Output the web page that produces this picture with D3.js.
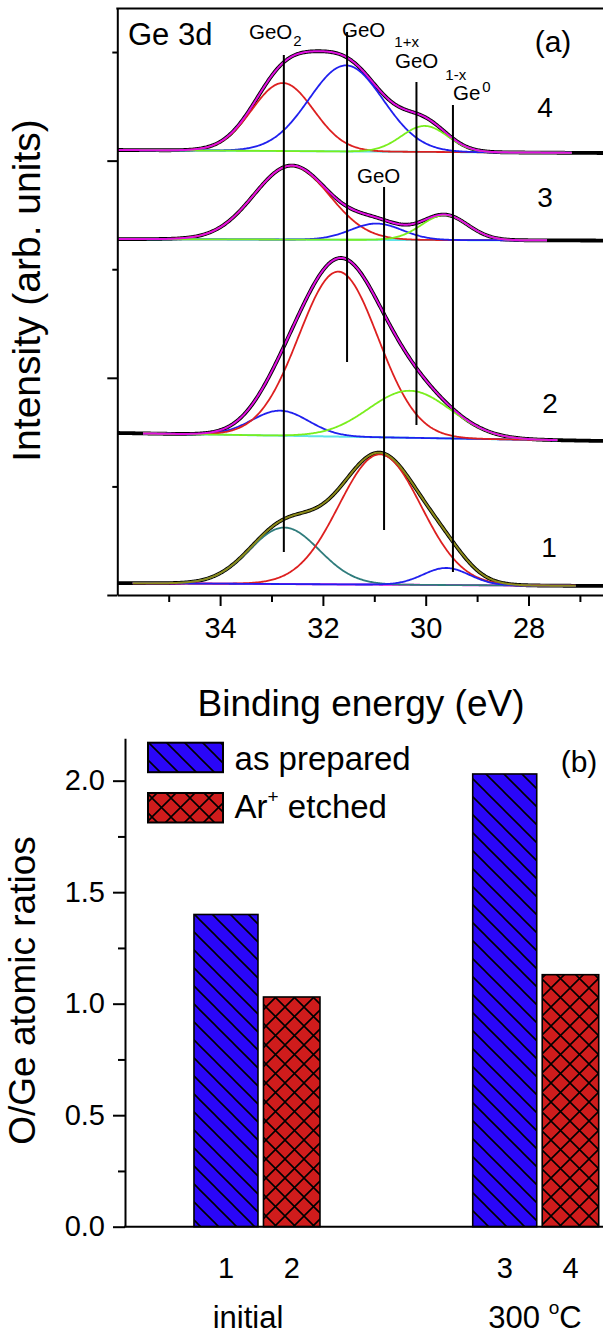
<!DOCTYPE html>
<html>
<head>
<meta charset="utf-8">
<script src="https://cdn.jsdelivr.net/npm/d3@7"></script>
<style>
body { margin: 0; background: #fff; }
svg { display: block; font-family: "Liberation Sans", Arial, sans-serif; }
</style>
</head>
<body>
<script>
// ---- panel (a): Ge 3d spectra ----
// peaks: centre (eV), height (arb. units), sigma (eV); baseline left/right (arb. units)
var energyTicks = [34, 32, 30, 28];
var energyMinor = [35, 33, 31, 29, 27];
var spectrumNames = ["1", "2", "3", "4"];
var baseLeft = [0.110, 1.492, 3.278, 4.098];
var baseRight = [0.083, 1.418, 3.264, 4.070];
var fitFrom = [35.7, 35.5, 36.0, 36.0];
var fitTo = [27.07, 27.43, 27.63, 27.15];

var centres1 = [32.75, 30.89, 29.60], heights1 = [0.520, 1.200, 0.157], widths1 = [0.68, 0.80, 0.45];
var centres2 = [32.83, 31.70, 30.31], heights2 = [0.230, 1.519, 0.433], widths2 = [0.55, 0.77, 0.80];
var centres3 = [32.61, 30.96, 29.63], heights3 = [0.681, 0.150, 0.230], widths3 = [0.73, 0.50, 0.45];
var centres4 = [32.78, 31.55, 30.02], heights4 = [0.626, 0.792, 0.239], widths4 = [0.60, 0.72, 0.45];

// reference lines: label, energy, top and bottom (arb. units)
var markerNames = ["GeO2", "GeO1+x", "GeO", "GeO1-x", "Ge0"];
var markerEnergy = [32.76, 31.53, 30.81, 30.18, 29.47];
var markerTop = [4.972, 5.184, 3.757, 4.724, 4.512];
var markerBottom = [0.396, 2.145, 0.599, 1.565, 0.212];

// ---- panel (b): O/Ge atomic ratios ----
var groups = ["initial", "300 °C"];
var series = ["as prepared", "Ar+ etched"];
var ratios = [[1.40, 1.03], [2.03, 1.13]];
var sampleLabels = [["1", "2"], ["3", "4"]];
var ratioTicks = [0, 0.5, 1.0, 1.5, 2.0];
var ratioMinor = [0.25, 0.75, 1.25, 1.75];

var compColors = [
  ["#2f7c7c", "#dd2020", "#2020ee"],
  ["#2020ee", "#dd2020", "#7aee1e"],
  ["#dd2020", "#2020ee", "#7aee1e"],
  ["#dd2020", "#2020ee", "#7aee1e"]
];
var envColors = ["#8c8a1a", "#e010e0", "#e010e0", "#e010e0"];
var baseColors = ["#e010e0", "#5ee3e8", "#5ee3e8", "#5ee3e8"];

var svg = d3.select("body").append("svg")
    .attr("width", 603)
    .attr("height", 1335);

var x = d3.scaleLinear().domain([36, 26.5]).range([117.3, 605.6]);
var y = d3.scaleLinear().domain([0, 5.4]).range([595, 8.6]);

var spectra = [
  {c: centres1, h: heights1, w: widths1},
  {c: centres2, h: heights2, w: widths2},
  {c: centres3, h: heights3, w: widths3},
  {c: centres4, h: heights4, w: widths4}
];

function base(i, e) {
  var t = (36 - e) / 9.5;
  return baseLeft[i] + (baseRight[i] - baseLeft[i]) * t;
}
function gauss(c, h, w, e) {
  return h * Math.exp(-(e - c) * (e - c) / (2 * w * w));
}
function total(i, e) {
  var s = spectra[i], v = base(i, e);
  for (var k = 0; k < s.c.length; k++) v += gauss(s.c[k], s.h[k], s.w[k], e);
  return v;
}

var line = d3.line()
    .x(function(d) { return x(d[0]); })
    .y(function(d) { return y(d[1]); });

var ga = svg.append("g");

spectra.forEach(function(s, i) {
  var all = d3.range(36, 26.49, -0.02);
  var fit = d3.range(fitFrom[i], fitTo[i] - 0.001, -0.02);
  // measured data
  ga.append("path")
      .attr("d", line(all.map(function(e) { return [e, total(i, e)]; })))
      .attr("fill", "none").attr("stroke", "#000").attr("stroke-width", 3.8)
      .attr("stroke-linejoin", "round");
  ga.append("path")
      .attr("d", line(fit.map(function(e) { return [e, base(i, e)]; })))
      .attr("fill", "none").attr("stroke", baseColors[i]).attr("stroke-width", 2);
  s.c.forEach(function(c, k) {
    ga.append("path")
        .attr("d", line(fit.map(function(e) { return [e, base(i, e) + gauss(c, s.h[k], s.w[k], e)]; })))
        .attr("fill", "none").attr("stroke", compColors[i][k]).attr("stroke-width", 1.8);
  });
  ga.append("path")
      .attr("d", line(fit.map(function(e) { return [e, total(i, e)]; })))
      .attr("fill", "none").attr("stroke", envColors[i]).attr("stroke-width", 2);
});

// marker lines
markerEnergy.forEach(function(e, k) {
  ga.append("line")
      .attr("x1", x(e)).attr("x2", x(e))
      .attr("y1", y(markerTop[k])).attr("y2", y(markerBottom[k]))
      .attr("stroke", "#000").attr("stroke-width", 2);
});

// axes (a)
var axA = svg.append("g").attr("transform", "translate(0,595)");
axA.call(d3.axisBottom(x).tickValues(energyTicks).tickSize(11).tickPadding(11).tickSizeOuter(0));
svg.append("g").attr("transform", "translate(0,595)")
    .call(d3.axisBottom(x).tickValues(energyMinor).tickSize(7).tickFormat("").tickSizeOuter(0))
    .select(".domain").remove();
svg.append("g").attr("transform", "translate(117.3,0)")
    .call(d3.axisLeft(y).tickValues([0, 2, 4]).tickSize(10).tickFormat("").tickSizeOuter(0));
svg.append("g").attr("transform", "translate(117.3,0)")
    .call(d3.axisLeft(y).tickValues([1, 3, 5]).tickSize(5).tickFormat("").tickSizeOuter(0))
    .select(".domain").remove();
svg.append("line").attr("x1", 116.3).attr("x2", 603).attr("y1", 8.6).attr("y2", 8.6)
    .attr("stroke", "#000").attr("stroke-width", 2);

svg.selectAll(".tick text").attr("font-size", 29).attr("font-family", "Liberation Sans, Arial, sans-serif");
svg.selectAll(".domain, .tick line").attr("stroke-width", 2);

svg.append("text").attr("x", 361).attr("y", 716).attr("text-anchor", "middle")
    .attr("font-size", 37).text("Binding energy (eV)");
svg.append("text").attr("transform", "translate(40,290.5) rotate(-90)").attr("text-anchor", "middle")
    .attr("font-size", 39).text("Intensity (arb. units)");

svg.append("text").attr("x", 128).attr("y", 45).attr("font-size", 31).text("Ge 3d");
svg.append("text").attr("x", 553).attr("y", 52).attr("text-anchor", "middle").attr("font-size", 30).text("(a)");

var specLabelPos = [[549, 557], [550, 413], [545, 207], [545, 117]];
spectrumNames.forEach(function(n, i) {
  svg.append("text").attr("x", specLabelPos[i][0]).attr("y", specLabelPos[i][1])
      .attr("text-anchor", "middle").attr("font-size", 28).text(n);
});

// marker labels: x, y, sub dx, sub dy
var markerLabelPos = [[249, 39, 1, 6.5], [342, 37, 9, 10], [357, 183, 0, 0], [395, 68, 7, 12], [453, 100, 2, -8]];
var markerMain = ["GeO", "GeO", "GeO", "GeO", "Ge"];
var markerSub = ["2", "1+x", "", "1-x", "0"];
markerNames.forEach(function(n, k) {
  var p = markerLabelPos[k];
  var t = svg.append("text").attr("x", p[0]).attr("y", p[1]).attr("font-size", 20.5);
  t.append("tspan").text(markerMain[k]);
  if (markerSub[k]) {
    t.append("tspan").attr("dx", p[2]).attr("dy", p[3]).attr("font-size", 15).text(markerSub[k]);
  }
});

// ---- panel (b) ----
var defs = svg.append("defs");
var pb = defs.append("pattern").attr("id", "hatchBlue").attr("patternUnits", "userSpaceOnUse")
    .attr("width", 18).attr("height", 18);
pb.append("rect").attr("width", 18).attr("height", 18).attr("fill", "#2a06f8");
pb.append("path").attr("d", "M0,0L18,18M-9,9L9,27M9,-9L27,9")
    .attr("stroke", "#000").attr("stroke-width", 1.6);
var pr = defs.append("pattern").attr("id", "hatchRed").attr("patternUnits", "userSpaceOnUse")
    .attr("width", 19).attr("height", 19);
pr.append("rect").attr("width", 19).attr("height", 19).attr("fill", "#cf1c1c");
pr.append("path").attr("d", "M0,0L19,19M19,0L0,19M-9.5,9.5L9.5,28.5M9.5,-9.5L28.5,9.5M-9.5,9.5L9.5,-9.5M9.5,28.5L28.5,9.5")
    .attr("stroke", "#000").attr("stroke-width", 1.6);
var fills = ["url(#hatchBlue)", "url(#hatchRed)"];

var yb = d3.scaleLinear().domain([0, 2.19]).range([1226.7, 738.3]);
var xg = d3.scaleBand().domain(groups).range([119.6, 677.1]);
var xs = d3.scaleBand().domain(series).range([-65, 68]);
var insetL = [0, 3], insetR = [2.5, 7];

var gb = svg.append("g");
groups.forEach(function(g, gi) {
  var gc = xg(g) + xg.bandwidth() / 2;
  series.forEach(function(s, si) {
    var x0 = gc + xs(s) + insetL[si];
    var w = xs.bandwidth() - insetL[si] - insetR[si];
    gb.append("rect")
        .attr("x", x0).attr("y", yb(ratios[gi][si]))
        .attr("width", w).attr("height", yb(0) - yb(ratios[gi][si]))
        .attr("fill", fills[si]).attr("stroke", "#000").attr("stroke-width", 1.6);
    gb.append("text").attr("x", x0 + w / 2).attr("y", 1278).attr("text-anchor", "middle")
        .attr("font-size", 29).text(sampleLabels[gi][si]);
  });
});

svg.append("text").attr("x", 248).attr("y", 1328).attr("text-anchor", "middle")
    .attr("font-size", 31).text(groups[0]);
var t300 = svg.append("text").attr("x", 535).attr("y", 1328).attr("text-anchor", "middle")
    .attr("font-size", 31);
t300.append("tspan").text("300 ");
t300.append("tspan").attr("font-size", 19).attr("dy", -14).text("o");
t300.append("tspan").attr("dy", 14).text("C");

var axB = svg.append("g").attr("transform", "translate(125,0)")
    .call(d3.axisLeft(yb).tickValues(ratioTicks).tickSize(12).tickPadding(8)
      .tickFormat(d3.format(".1f")).tickSizeOuter(0));
svg.append("g").attr("transform", "translate(125,0)")
    .call(d3.axisLeft(yb).tickValues(ratioMinor).tickSize(7).tickFormat("").tickSizeOuter(0))
    .select(".domain").remove();
svg.append("line").attr("x1", 124).attr("x2", 603).attr("y1", yb(0)).attr("y2", yb(0))
    .attr("stroke", "#000").attr("stroke-width", 2);
axB.selectAll(".tick text").attr("font-size", 29);
svg.selectAll(".domain, .tick line").attr("stroke-width", 2);

svg.append("text").attr("transform", "translate(35,990.5) rotate(-90)").attr("text-anchor", "middle")
    .attr("font-size", 37).text("O/Ge atomic ratios");
svg.append("text").attr("x", 579).attr("y", 772).attr("text-anchor", "middle")
    .attr("font-size", 30).text("(b)");

// legend
var legY = [742.7, 793];
series.forEach(function(s, si) {
  svg.append("rect").attr("x", 148).attr("y", legY[si]).attr("width", 75).attr("height", 29.5)
      .attr("fill", fills[si]).attr("stroke", "#000").attr("stroke-width", 2);
});
svg.append("text").attr("x", 234.6).attr("y", 770).attr("font-size", 33).text(series[0]);
var tl = svg.append("text").attr("x", 234.6).attr("y", 818).attr("font-size", 33);
tl.append("tspan").text("Ar");
tl.append("tspan").attr("font-size", 19).attr("dy", -15).text("+");
tl.append("tspan").attr("dy", 15).text(" etched");
</script>
</body>
</html>
